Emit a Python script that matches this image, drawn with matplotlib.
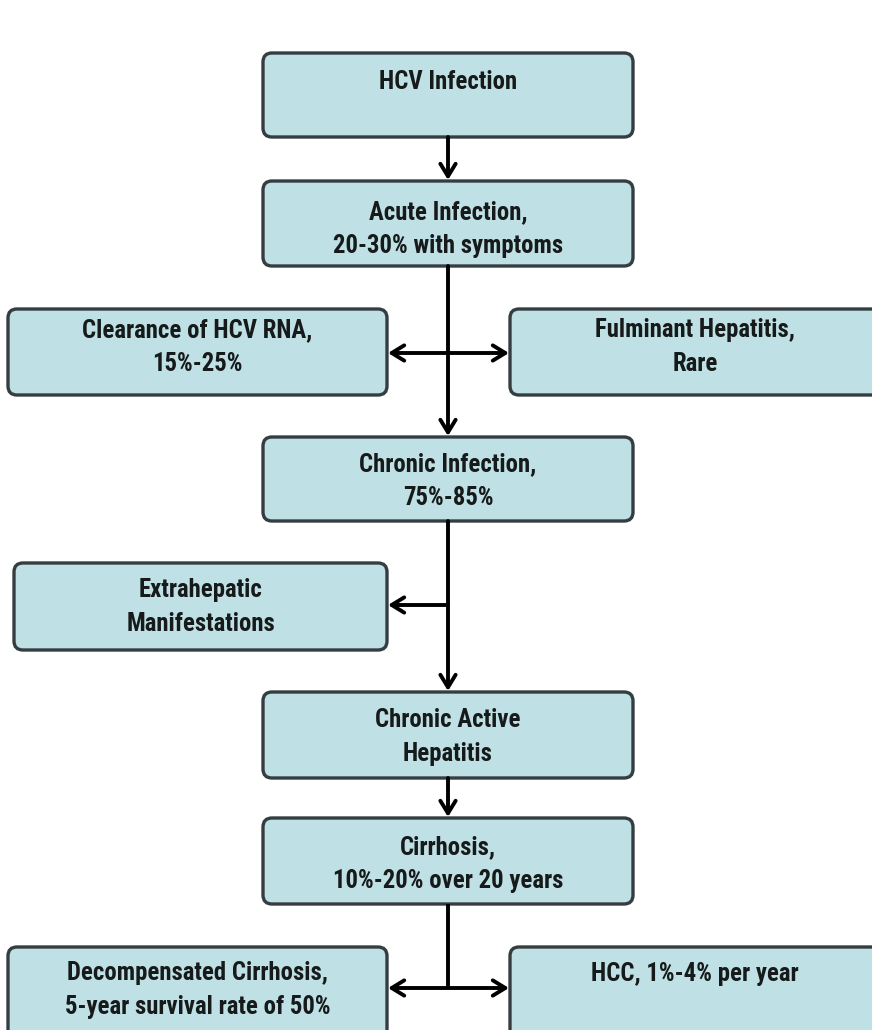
import matplotlib.pyplot as plt
from matplotlib.patches import FancyBboxPatch
from matplotlib import font_manager

# box texts
labels = [
    "HCV Infection",
    "Acute Infection,\n20-30% with symptoms",
    "Clearance of HCV RNA,\n15%-25%",
    "Fulminant Hepatitis,\nRare",
    "Chronic Infection,\n75%-85%",
    "Extrahepatic\nManifestations",
    "Chronic Active\nHepatitis",
    "Cirrhosis,\n10%-20% over 20 years",
    "Decompensated Cirrhosis,\n5-year survival rate of 50%",
    "HCC, 1%-4% per year",
]

# layout in pixels (x0, y0, x1, y1), y measured from top
boxes = [
    (263, 53, 633, 137),
    (263, 181, 633, 266),
    (8, 309, 387, 395),
    (510, 309, 880, 395),
    (263, 437, 633, 521),
    (14, 563, 387, 650),
    (263, 692, 633, 778),
    (263, 818, 633, 904),
    (8, 947, 387, 1045),
    (510, 947, 880, 1045),
]
text_y = [82, 229, 347, 347, 481, 607, 737, 864, 990, 974]

fill = "#bfe0e4"
edge = "#343d3f"
lw_line = 2.8

# prefer a narrow bold face if one is installed
names = {f.name for f in font_manager.fontManager.ttflist}
narrow = [n for n in ('Liberation Sans Narrow', 'DejaVu Sans Condensed', 'Roboto Condensed',
                      'Open Sans Condensed') if n in names]
if narrow:
    plt.rcParams['font.family'] = [narrow[0], 'Liberation Sans', 'DejaVu Sans']
    fs, ls = 17.8, 1.52
else:
    plt.rcParams['font.family'] = ['Liberation Sans', 'DejaVu Sans']
    fs, ls = 16, 1.72

fig = plt.figure(figsize=(8.72, 10.30), dpi=100)
ax = fig.add_axes([0, 0, 1, 1])
ax.set_xlim(0, 872)
ax.set_ylim(1030, 0)
ax.axis('off')

for (x0, y0, x1, y1), lab, ty in zip(boxes, labels, text_y):
    p = FancyBboxPatch((x0, y0), x1 - x0, y1 - y0,
                       boxstyle="round,pad=0,rounding_size=9",
                       fc=fill, ec=edge, lw=2.4)
    ax.add_patch(p)
    ax.text((x0 + x1) / 2, ty, lab, ha='center', va='center',
            fontsize=fs, fontweight='bold', color='#161a1a', linespacing=ls)

cx = 448
arr = dict(arrowstyle='->,head_length=0.9,head_width=0.55', color='black',
           lw=lw_line, shrinkA=0, shrinkB=0)
darr = dict(arrowstyle='<->,head_length=0.9,head_width=0.55', color='black',
            lw=lw_line, shrinkA=0, shrinkB=0)

def arrow(x0, y0, x1, y1, style=arr):
    ax.annotate('', xy=(x1, y1), xytext=(x0, y0), arrowprops=style)

def line(xs, ys):
    ax.plot(xs, ys, color='black', lw=lw_line, solid_capstyle='butt')

# HCV -> Acute
arrow(cx, 137, cx, 180)
# Acute -> Chronic with side branches
arrow(cx, 266, cx, 436)
arrow(388, 353, 509, 353, darr)
# Chronic -> Chronic active, branch to extrahepatic
arrow(cx, 521, cx, 691)
arrow(cx, 605, 388, 605)
# Chronic active -> Cirrhosis
arrow(cx, 778, cx, 817)
# Cirrhosis -> outcomes
line([cx, cx], [904, 988])
arrow(388, 988, 509, 988, darr)

fig.savefig('out.png', dpi=100)
